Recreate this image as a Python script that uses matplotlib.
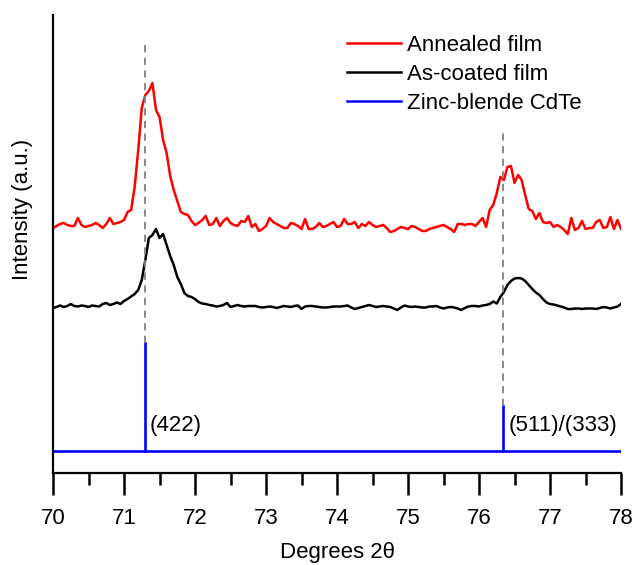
import numpy as np
import matplotlib
matplotlib.use("Agg")
import matplotlib.pyplot as plt
from matplotlib.lines import Line2D

plt.rcParams['font.family'] = ['Liberation Sans', 'DejaVu Sans']

# 2theta scan, 0.05 deg step
two_theta = np.round(np.arange(70.0, 78.0001, 0.05), 2)

annealed = [
    102, 104, 106, 107, 105, 104, 104, 112, 105, 103, 104, 105, 107, 105, 102, 106, 112, 106, 107, 108,
    110, 118, 120, 143, 180, 222, 235, 239, 247, 220, 213, 190, 177, 154, 140, 129, 118, 116, 115, 109,
    105, 107, 110, 114, 105, 106, 112, 104, 109, 112, 107, 105, 104, 109, 108, 114, 103, 106, 99, 101,
    104, 112, 108, 106, 104, 102, 102, 107, 106, 104, 101, 111, 101, 101, 103, 107, 103, 104, 106, 108,
    103, 104, 111, 106, 106, 108, 102, 106, 104, 108, 105, 103, 104, 105, 102, 98, 99, 101, 103, 102,
    101, 104, 103, 101, 99, 99, 101, 102, 103, 104, 105, 103, 101, 98, 106, 106, 105, 106, 106, 104,
    108, 112, 103, 120, 125, 137, 153, 150, 163, 164, 147, 155, 150, 135, 121, 119, 111, 117, 108, 107,
    108, 103, 105, 103, 100, 96, 112, 100, 102, 109, 101, 102, 102, 108, 110, 102, 103, 113, 101, 110,
    101,
]

as_coated = [
    102, 103, 104.5, 103, 104, 106, 104, 103.5, 104.5, 104, 103, 104.5, 104, 103.5, 106, 107, 105, 106, 107.5, 106,
    109, 111, 113.5, 116, 120, 130, 150, 172, 175, 181, 172, 176, 165, 154, 145, 133, 126, 117, 114, 113,
    111, 108, 106.5, 106, 105, 104.5, 103.5, 104, 105, 107, 103, 104, 105, 104, 103.5, 104, 104, 104, 103, 102.5,
    103, 103.5, 103, 102, 103, 104, 103.5, 103, 104, 104.5, 101, 103.5, 104, 104, 103.5, 103, 102.5, 102.5, 103, 103.5,
    103.5, 103.5, 104, 104.5, 102.5, 101, 102, 103, 104, 105, 104, 103, 103.5, 104, 103.5, 103, 101.5, 100, 102.5, 104.5,
    103.5, 103, 103.5, 103, 102.5, 102.5, 103.5, 103.5, 104, 102.5, 101.5, 102.5, 103, 102.5, 101.5, 100, 102, 103.5, 104, 104,
    103.5, 104.5, 105, 106, 108.5, 106.5, 113, 118, 125, 129, 131.5, 132, 131.5, 129, 125, 121, 117.5, 115, 111, 107.5,
    106, 105.5, 104.5, 103.5, 102.5, 101, 101, 101.5, 101.5, 101, 101.5, 101.5, 101.5, 101, 102, 103, 102.5, 101.5, 102.5, 103.5,
    106,
]

# zinc-blende CdTe reference reflections
ref_pos = [71.29, 76.34]
ref_int = [100, 42]
ref_hkl = ["(422)", "(511)/(333)"]

off_annealed = 143
off_coated = 63
ref_base = 22
ref_scale = 1.08
dash_top = [428, 345]

fig = plt.figure(figsize=(6.35, 5.65), dpi=100)
ax = fig.add_axes([0.0835, 0.1628, 0.8945, 0.8107])

ax.plot(two_theta, np.array(annealed) + off_annealed, color="#ff0000", lw=1.8)
ax.plot(two_theta, np.array(as_coated) + off_coated, color="black", lw=1.8)

# reference stick pattern
ax.axhline(ref_base, color="#0000ff", lw=1.9)
for p, h, lab, top in zip(ref_pos, ref_int, ref_hkl, dash_top):
    y1 = ref_base + h * ref_scale
    ax.plot([p, p], [ref_base, y1], color="#0000ff", lw=1.9)
    ax.plot([p, p], [y1, top], color="grey", lw=1.3, ls=(0, (4, 3)))
    ax.text(p + 0.07, ref_base + 26, lab, fontsize=16, va="center", ha="left")

ax.set_xlim(70, 78)
ax.set_ylim(0, 458)
ax.set_xticks(range(70, 79))
ax.set_xticks(np.arange(70.5, 78, 1), minor=True)
ax.set_yticks([])
ax.spines["top"].set_visible(False)
ax.spines["right"].set_visible(False)
ax.spines["left"].set_linewidth(1.6)
ax.spines["bottom"].set_linewidth(1.6)
ax.tick_params(axis="x", which="major", length=15.5, width=1.8, labelsize=16, pad=10)
ax.tick_params(axis="x", which="minor", length=8.5, width=1.8)

ax.set_xlabel("Degrees 2θ", fontsize=16, labelpad=9)
ax.set_ylabel("Intensity (a.u.)", fontsize=16)
ax.yaxis.set_label_coords(-0.036, 0.576)

handles = [
    Line2D([], [], color="#ff0000", lw=1.8),
    Line2D([], [], color="black", lw=1.8),
    Line2D([], [], color="#0000ff", lw=1.8),
]
ax.legend(handles, ["Annealed film", "As-coated film", "Zinc-blende CdTe"],
          loc="upper left", bbox_to_anchor=(0.518, 0.957), frameon=False,
          fontsize=16, handlelength=2.4, handletextpad=0.3, labelspacing=0.36,
          borderaxespad=0, borderpad=0)

fig.savefig("out.png", dpi=100)
